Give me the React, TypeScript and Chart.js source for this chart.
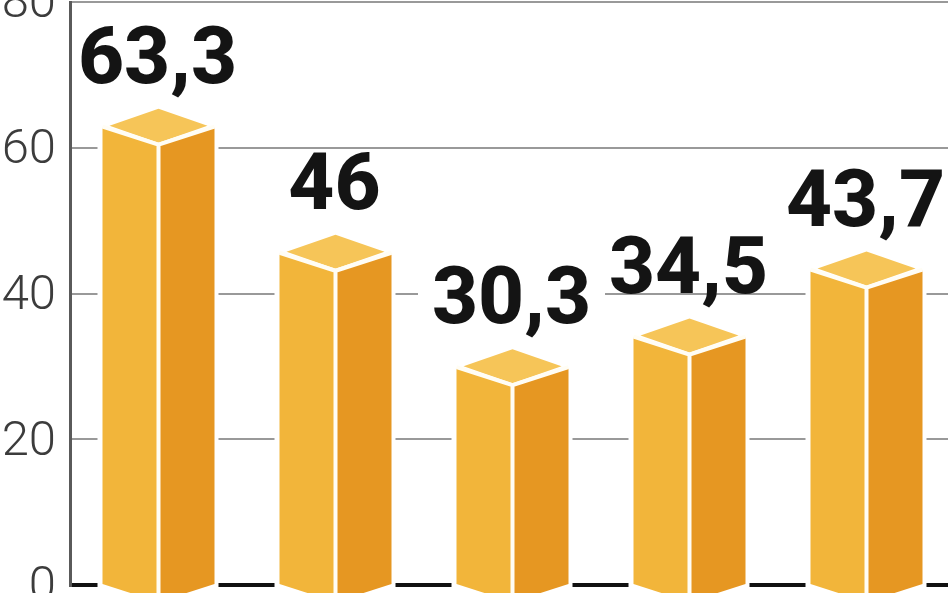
import React, { useEffect, useRef } from "react";
import { Chart, registerables } from "chart.js";

Chart.register(...registerables);

const categories = ["A", "B", "C", "D", "E"];
const values = [63.3, 46, 30.3, 34.5, 43.7];
const yTicks = [0, 20, 40, 60, 80];

const LEFT_FACE = "#F2B53A";
const RIGHT_FACE = "#E69722";
const TOP_FACE = "#F6C558";
const LABEL_FONT = "800 80px Roboto";

const formatValue = (v: number) => String(v).replace(".", ",");

const cubePlugin = {
  id: "cube3d",
  beforeDatasetsDraw(chart: any) {
    const ctx = chart.ctx;
    const bars = chart.getDatasetMeta(0).data;
    const minX = chart.chartArea.left + 3;
    ctx.save();
    ctx.font = LABEL_FONT;
    // white knock-out of the gridlines behind labels and bars
    ctx.fillStyle = "#fff";
    bars.forEach((b: any, i: number) => {
      const w = ctx.measureText(formatValue(values[i])).width;
      const base = b.y + 4 - 45;
      const x0 = Math.max(minX, b.x - 1 - w / 2 - 14);
      ctx.fillRect(x0, base - 58, b.x - 1 + w / 2 + 14 - x0, 58);
      ctx.fillRect(b.x - b.width / 2 - 5, b.y - 20, b.width + 9, b.base - b.y + 32);
    });
    ctx.restore();
  },
  beforeDatasetDraw(chart: any) {
    const ctx = chart.ctx;
    const bars = chart.getDatasetMeta(0).data;
    ctx.save();
    bars.forEach((b: any) => {
      const l = b.x - b.width / 2;
      const r = b.x + b.width / 2;
      const cx = b.x;
      const cy = b.y + 4;
      const depth = 18;
      const bottom = b.base + 1;

      ctx.fillStyle = LEFT_FACE;
      ctx.beginPath();
      ctx.moveTo(l, cy);
      ctx.lineTo(cx, cy + depth);
      ctx.lineTo(cx, bottom + depth);
      ctx.lineTo(l, bottom);
      ctx.closePath();
      ctx.fill();

      ctx.fillStyle = RIGHT_FACE;
      ctx.beginPath();
      ctx.moveTo(r, cy);
      ctx.lineTo(cx, cy + depth);
      ctx.lineTo(cx, bottom + depth);
      ctx.lineTo(r, bottom);
      ctx.closePath();
      ctx.fill();

      ctx.fillStyle = TOP_FACE;
      ctx.beginPath();
      ctx.moveTo(cx, cy - depth - 1);
      ctx.lineTo(r - 7, cy - 2);
      ctx.lineTo(cx, cy + depth - 3);
      ctx.lineTo(l + 7, cy - 2);
      ctx.closePath();
      ctx.fill();

      ctx.strokeStyle = "#FFFDF5";
      ctx.lineWidth = 4;
      ctx.lineJoin = "miter";
      ctx.beginPath();
      ctx.moveTo(l, cy - 1);
      ctx.lineTo(cx, cy + depth - 1);
      ctx.lineTo(r, cy - 1);
      ctx.moveTo(cx, cy + depth - 1);
      ctx.lineTo(cx, bottom + depth);
      ctx.stroke();
    });
    ctx.restore();
    return false;
  },
  afterDatasetsDraw(chart: any) {
    const ctx = chart.ctx;
    const bars = chart.getDatasetMeta(0).data;
    ctx.save();
    ctx.font = LABEL_FONT;
    ctx.fillStyle = "#141414";
    ctx.textAlign = "center";
    ctx.textBaseline = "alphabetic";
    bars.forEach((b: any, i: number) => {
      ctx.fillText(formatValue(values[i]), b.x - 1, b.y + 4 - 45);
    });
    ctx.restore();
  },
};

export default function App() {
  const ref = useRef<HTMLCanvasElement>(null);
  useEffect(() => {
    const chart = new Chart(ref.current!, {
      type: "bar",
      data: {
        labels: categories,
        datasets: [
          { data: values, backgroundColor: LEFT_FACE, barThickness: 112, clip: false } as any,
        ],
      },
      plugins: [cubePlugin],
      options: {
        animation: false,
        responsive: false,
        layout: { padding: { top: 2, bottom: 8, left: 0, right: 0 } },
        plugins: { legend: { display: false }, tooltip: { enabled: false } },
        scales: {
          x: { display: false },
          y: {
            min: yTicks[0],
            max: yTicks[yTicks.length - 1],
            afterFit: (s: any) => {
              s.width = 70;
              s.paddingTop = 0;
              s.paddingBottom = 0;
              s.paddingLeft = 0;
              s.paddingRight = 0;
              s.getPadding = () => ({ left: 0, top: 0, right: 0, bottom: 0 });
            },
            afterBuildTicks: (s: any) => {
              s.ticks = yTicks.map((value) => ({ value }));
            },
            border: { color: "#5a5a5a", width: 3 },
            grid: {
              drawTicks: false,
              color: (c: any) => (c.tick && c.tick.value === 0 ? "#111" : "#999"),
              lineWidth: (c: any) => (c.tick && c.tick.value === 0 ? 4 : 2),
            },
            ticks: {
              padding: 14,
              autoSkip: false,
              color: "#3c3c3c",
              callback: (v: any) => ["", String(v)],
              font: { family: "Roboto", weight: 300, size: 49, lineHeight: "6px" },
            },
          },
        },
      } as any,
    });
    return () => chart.destroy();
  }, []);
  return (
    <div style={{ position: "fixed", left: 0, top: 0, width: 948, height: 593, background: "#fff", overflow: "hidden" }}>
      <canvas ref={ref} width={955} height={593} style={{ display: "block" }} />
    </div>
  );
}
